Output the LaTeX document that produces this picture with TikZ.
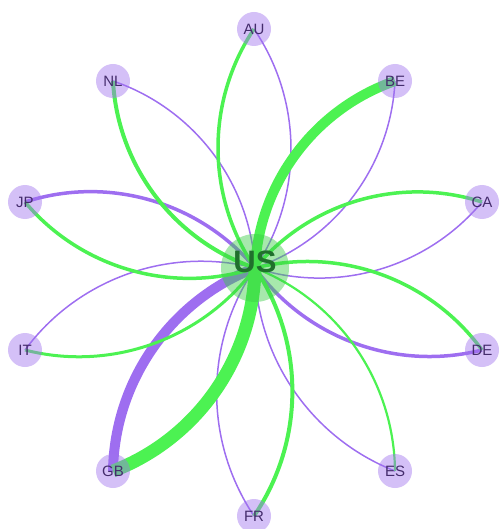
\documentclass[tikz,border=0pt]{standalone}
\usepackage{fontspec}
\setmainfont{Liberation Sans}
\usetikzlibrary{backgrounds}
\definecolor{linkgreen}{RGB}{76,242,82}
\definecolor{linkpurple}{RGB}{158,110,240}
\definecolor{nodepurple}{RGB}{160,115,238}
\definecolor{labelpurple}{RGB}{68,44,108}
\definecolor{usgreen}{RGB}{60,205,70}
\definecolor{uslabel}{RGB}{32,112,44}
\tikzset{
  country/.style={circle, minimum size=34pt, inner sep=0pt, fill=nodepurple, fill opacity=0.45, text opacity=1, text=labelpurple, font=\fontsize{15}{15}\selectfont},
  hub/.style={circle, minimum size=68pt, inner sep=0pt, fill=usgreen, fill opacity=0.45, text opacity=1, text=uslabel, font=\fontsize{31}{31}\selectfont\bfseries},
  gl/.style={draw=linkgreen, line width=#1},
  pl/.style={draw=linkpurple, line width=#1},
  arcl/.style={bend left=34, looseness=0.93}
}
\begin{document}
\begin{tikzpicture}[x=1pt,y=1pt]
\useasboundingbox (0,0) rectangle (498,-529);
\node[hub] (US) at (255,-268) {\raisebox{12pt}{US}};
\node[country] (AU) at (254,-29) {AU};
\node[country] (BE) at (395,-81) {BE};
\node[country] (CA) at (482,-202) {CA};
\node[country] (DE) at (482,-350) {DE};
\node[country] (ES) at (395,-471) {ES};
\node[country] (FR) at (254,-516) {FR};
\node[country] (GB) at (113,-471) {GB};
\node[country] (IT) at (25,-350) {IT};
\node[country] (JP) at (25,-202) {JP};
\node[country] (NL) at (113,-81) {NL};
\begin{scope}[on background layer]
  \draw[pl=1.5] (AU.center) to[arcl] (US.center);
  \draw[pl=1.5] (BE.center) to[arcl] (US.center);
  \draw[pl=1.5] (CA.center) to[arcl] (US.center);
  \draw[pl=3.5] (DE.center) to[arcl] (US.center);
  \draw[pl=1.5] (ES.center) to[arcl] (US.center);
  \draw[pl=1.5] (FR.center) to[arcl] (US.center);
  \draw[pl=10] (GB.center) to[arcl] (US.center);
  \draw[pl=1.5] (IT.center) to[arcl] (US.center);
  \draw[pl=3.5] (JP.center) to[arcl] (US.center);
  \draw[pl=1.5] (NL.center) to[arcl] (US.center);
  \draw[gl=3.5] (US.center) to[arcl] (AU.center);
  \draw[gl=10] (US.center) to[arcl] (BE.center);
  \draw[gl=3.5] (US.center) to[arcl] (CA.center);
  \draw[gl=3.5] (US.center) to[arcl] (DE.center);
  \draw[gl=2.2] (US.center) to[arcl] (ES.center);
  \draw[gl=4] (US.center) to[arcl] (FR.center);
  \draw[gl=13] (US.center) to[arcl] (GB.center);
  \draw[gl=3] (US.center) to[arcl] (IT.center);
  \draw[gl=3.5] (US.center) to[arcl] (JP.center);
  \draw[gl=4] (US.center) to[arcl] (NL.center);
\end{scope}
\end{tikzpicture}
\end{document}
